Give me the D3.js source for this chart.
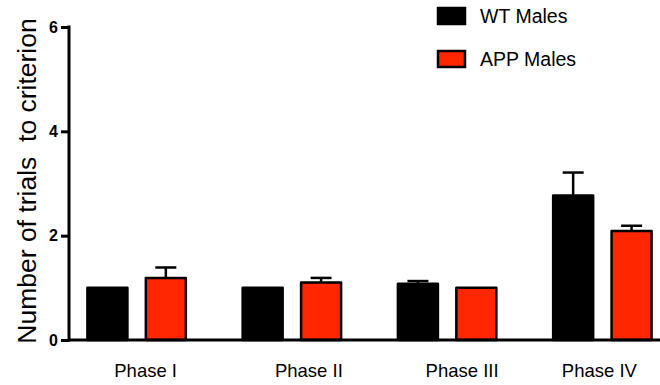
<!DOCTYPE html>
<html>
<head>
<meta charset="utf-8">
<script src="https://cdn.jsdelivr.net/npm/d3@7"></script>
<style>
  body { margin: 0; background: #fff; }
  text { font-family: "Liberation Sans", Arial, Helvetica, sans-serif; }
</style>
</head>
<body>
<svg id="chart" width="660" height="385"></svg>
<script>
const phases = ["Phase I", "Phase II", "Phase III", "Phase IV"]
const series = ["WT Males", "APP Males"]
const wtMeans = [1.0, 1.0, 1.08, 2.77]
const wtSem = [0, 0, 0.05, 0.44]
const appMeans = [1.19, 1.1, 1.0, 2.09]
const appSem = [0.2, 0.09, 0, 0.1]
const yTicks = [0, 2, 4, 6]
const colors = ["#000000", "#ff2600"]

// label nudges to mimic the original's placement
const labelDx = [9, 17, 15, -3]

const svg = d3.select("#chart")
const axisX = 69, baseY = 340

const y = d3.scaleLinear().domain([0, 6]).range([baseY, 27])
const x0 = d3.scaleBand().domain(phases).range([59, 680])
const x1 = d3.scaleBand().domain(series).range([0, x0.bandwidth()])
  .paddingInner(0.281).paddingOuter(0.469)

const rows = phases.map((p, i) => ({
  phase: p,
  values: [
    { key: series[0], mean: wtMeans[i], sem: wtSem[i], color: colors[0] },
    { key: series[1], mean: appMeans[i], sem: appSem[i], color: colors[1] }
  ]
}))

const groups = svg.append("g").attr("class", "bars")
  .selectAll("g")
  .data(rows)
  .enter()
  .append("g")
  .attr("transform", d => "translate(" + x0(d.phase) + ",0)")

// error bars (upper only)
groups.selectAll("line.err")
  .data(d => d.values.filter(v => v.sem > 0))
  .enter()
  .append("line")
  .attr("class", "err")
  .attr("x1", d => x1(d.key) + x1.bandwidth() / 2)
  .attr("x2", d => x1(d.key) + x1.bandwidth() / 2)
  .attr("y1", d => y(d.mean))
  .attr("y2", d => y(d.mean + d.sem))
  .attr("stroke", "#000")
  .attr("stroke-width", 2.5)

groups.selectAll("line.cap")
  .data(d => d.values.filter(v => v.sem > 0))
  .enter()
  .append("line")
  .attr("class", "cap")
  .attr("x1", d => x1(d.key) + x1.bandwidth() / 2 - 10.5)
  .attr("x2", d => x1(d.key) + x1.bandwidth() / 2 + 10.5)
  .attr("y1", d => y(d.mean + d.sem))
  .attr("y2", d => y(d.mean + d.sem))
  .attr("stroke", "#000")
  .attr("stroke-width", 2.5)

groups.selectAll("rect")
  .data(d => d.values)
  .enter()
  .append("rect")
  .attr("x", d => x1(d.key) + 1)
  .attr("width", x1.bandwidth() - 2)
  .attr("y", d => y(d.mean))
  .attr("height", d => baseY - y(d.mean))
  .attr("fill", d => d.color)
  .attr("stroke", "#000")
  .attr("stroke-width", 2.5)
  .attr("stroke-linejoin", "round")

// y axis
const yAxis = svg.append("g")
  .attr("transform", "translate(" + axisX + ",0)")
  .call(d3.axisLeft(y).tickValues(yTicks).tickSize(8).tickPadding(3).tickFormat(d3.format("d")))
yAxis.select(".domain").attr("stroke-width", 3).attr("d", "M0," + (y(6) - 1.5) + "V" + (baseY + 1.5))
yAxis.selectAll(".tick line").attr("stroke-width", 3)
yAxis.selectAll(".tick text")
  .attr("font-family", "Liberation Sans, Arial, sans-serif")
  .attr("font-size", 16).attr("font-weight", "bold").attr("fill", "#000")

// x axis baseline
svg.append("line")
  .attr("x1", axisX).attr("x2", 660)
  .attr("y1", baseY).attr("y2", baseY)
  .attr("stroke", "#000").attr("stroke-width", 3)

svg.append("g").attr("class", "xlabels")
  .selectAll("text")
  .data(phases)
  .enter()
  .append("text")
  .attr("x", (d, i) => x0(d) + x0.bandwidth() / 2 + labelDx[i])
  .attr("y", 377)
  .attr("text-anchor", "middle")
  .attr("font-size", 18.5)
  .text(d => d)

svg.append("text")
  .attr("transform", "translate(36,181) rotate(-90)")
  .attr("text-anchor", "middle")
  .attr("font-size", 26.5)
  .style("white-space", "pre")
  .text("Number of trials  to criterion")

// legend
const legend = svg.append("g").attr("class", "legend")
  .selectAll("g")
  .data(series)
  .enter()
  .append("g")
  .attr("transform", (d, i) => "translate(438," + (8 + i * 43) + ")")
legend.append("rect")
  .attr("width", 27).attr("height", 16)
  .attr("fill", (d, i) => colors[i])
  .attr("stroke", "#000").attr("stroke-width", 2.5)
legend.append("text")
  .attr("x", 42).attr("y", 15)
  .attr("font-size", 19.5)
  .text(d => d)
</script>
</body>
</html>
